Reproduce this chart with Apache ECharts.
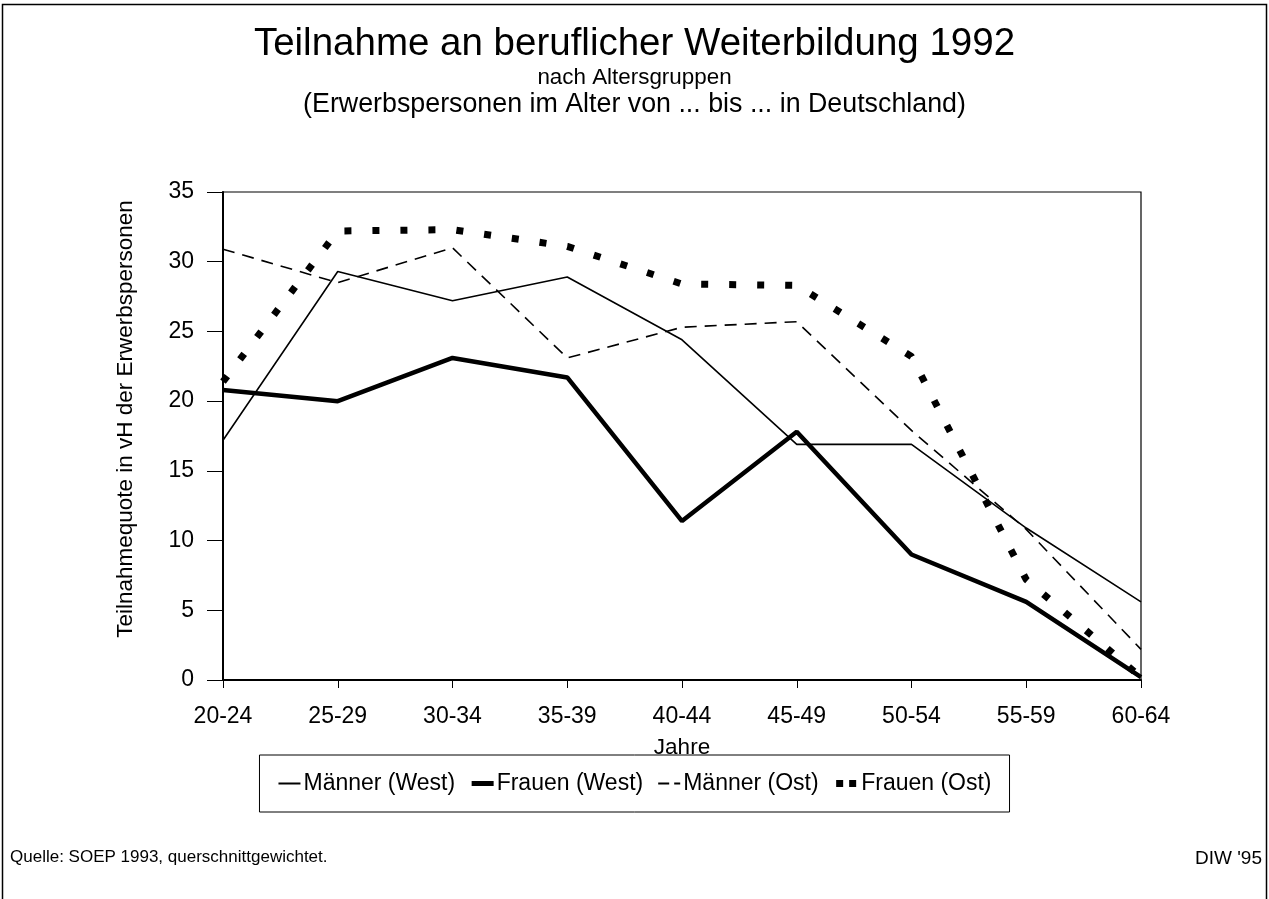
<!DOCTYPE html>
<html>
<head>
<meta charset="utf-8">
<title>Teilnahme an beruflicher Weiterbildung 1992</title>
<script src="https://cdn.jsdelivr.net/npm/echarts@6/dist/echarts.min.js"></script>
<style>
  html, body { margin: 0; padding: 0; background: #fff; }
  #chart { width: 1269px; height: 899px; }
</style>
</head>
<body>
<div id="chart"></div>
<script>
// Altersgruppen
var altersgruppen = ['20-24', '25-29', '30-34', '35-39', '40-44', '45-49', '50-54', '55-59', '60-64'];

// Teilnahmequote in vH
var maennerWest = [17.2, 29.3, 27.2, 28.9, 24.4, 16.9, 16.9, 10.9, 5.6];
var frauenWest = [20.8, 20.0, 23.1, 21.7, 11.4, 17.8, 9.0, 5.6, 0.2];
var maennerOst = [30.9, 28.5, 31.0, 23.1, 25.3, 25.7, 17.9, 10.8, 2.2];
var frauenOst = [21.4, 32.2, 32.3, 31.1, 28.4, 28.3, 23.2, 7.2, 0.2];

var font = '"Liberation Sans", Arial, Helvetica, sans-serif';

var myChart = echarts.init(document.getElementById('chart'));

var option = {
  backgroundColor: '#fff',
  animation: false,
  textStyle: { fontFamily: font, color: '#000' },
  title: [
    {
      text: 'Teilnahme an beruflicher Weiterbildung 1992',
      left: 'center', top: 25, padding: 0,
      textStyle: { fontSize: 38.5, fontWeight: 'normal', fontFamily: font, color: '#000' }
    },
    {
      text: 'nach Altersgruppen',
      left: 'center', top: 67, padding: 0,
      textStyle: { fontSize: 22.4, fontWeight: 'normal', fontFamily: font, color: '#000' }
    },
    {
      text: '(Erwerbspersonen im Alter von ... bis ... in Deutschland)',
      left: 'center', top: 91, padding: 0,
      textStyle: { fontSize: 26.8, fontWeight: 'normal', fontFamily: font, color: '#000' }
    },
    {
      text: 'Quelle: SOEP 1993, querschnittgewichtet.',
      left: 10, top: 849, padding: 0,
      textStyle: { fontSize: 17, fontWeight: 'normal', fontFamily: font, color: '#000' }
    },
    {
      text: "DIW '95",
      right: 7, top: 849, padding: 0,
      textStyle: { fontSize: 19, fontWeight: 'normal', fontFamily: font, color: '#000' }
    }
  ],
  // Rahmen um das ganze Bild (unten offen)
  graphic: [
    {
      type: 'polyline',
      silent: true,
      shape: { points: [[2.5, 905], [2.5, 4.5], [1266.5, 4.5], [1266.5, 905]] },
      style: { stroke: '#000', lineWidth: 1.5, fill: null }
    }
  ],
  legend: {
    top: 755,
    left: 'center',
    padding: [17, 18, 17, 18],
    itemGap: 14,
    itemWidth: 22,
    itemHeight: 10,
    borderColor: '#000',
    borderWidth: 1,
    selectedMode: false,
    itemStyle: { opacity: 0 },
    textStyle: { fontSize: 23, fontFamily: font, color: '#000', padding: [0, 0, 0, -2] },
    data: [
      { name: 'Männer (West)', lineStyle: { width: 2, type: 'solid' } },
      { name: 'Frauen (West)', lineStyle: { width: 5, type: 'solid' } },
      { name: 'Männer (Ost)', lineStyle: { width: 2, type: [11, 5] } },
      { name: 'Frauen (Ost)', lineStyle: { width: 7, type: [7, 6], cap: 'butt' } }
    ]
  },
  grid: {
    left: 223,
    right: 128,
    top: 192,
    bottom: 219,
    show: true,
    borderColor: '#000',
    borderWidth: 1.2,
    containLabel: false
  },
  xAxis: {
    type: 'category',
    data: altersgruppen,
    boundaryGap: false,
    name: 'Jahre',
    nameLocation: 'middle',
    nameGap: 56,
    nameTextStyle: { fontSize: 22.5, fontFamily: font, color: '#000' },
    axisLine: { lineStyle: { color: '#000', width: 2 } },
    axisTick: { show: true, length: 8, lineStyle: { color: '#000', width: 1 } },
    axisLabel: { fontSize: 23, fontFamily: font, color: '#000', margin: 25 },
    splitLine: { show: false }
  },
  yAxis: {
    type: 'value',
    min: 0,
    max: 35,
    interval: 5,
    name: 'Teilnahmequote in vH der Erwerbspersonen',
    nameLocation: 'middle',
    nameGap: 86,
    nameTextStyle: { fontSize: 22.5, fontFamily: font, color: '#000', padding: [0, 0, 0, 34] },
    axisLine: { show: true, lineStyle: { color: '#000', width: 2 } },
    axisTick: { show: true, length: 16, lineStyle: { color: '#000', width: 1 } },
    axisLabel: { fontSize: 23, fontFamily: font, color: '#000', margin: 29 },
    splitLine: { show: false }
  },
  series: [
    {
      name: 'Männer (West)',
      type: 'line',
      data: maennerWest,
      symbol: 'none',
      color: '#000',
      lineStyle: { color: '#000', width: 1.6, type: 'solid' }
    },
    {
      name: 'Frauen (West)',
      type: 'line',
      data: frauenWest,
      symbol: 'none',
      color: '#000',
      lineStyle: { color: '#000', width: 4.5, type: 'solid' }
    },
    {
      name: 'Männer (Ost)',
      type: 'line',
      data: maennerOst,
      symbol: 'none',
      color: '#000',
      lineStyle: { color: '#000', width: 1.6, type: [12, 8] }
    },
    {
      name: 'Frauen (Ost)',
      type: 'line',
      data: frauenOst,
      symbol: 'none',
      color: '#000',
      lineStyle: { color: '#000', width: 7, type: [7, 21], cap: 'butt' }
    }
  ]
};

myChart.setOption(option);

window.addEventListener('resize', function () {
  myChart && myChart.resize();
});
</script>
</body>
</html>
